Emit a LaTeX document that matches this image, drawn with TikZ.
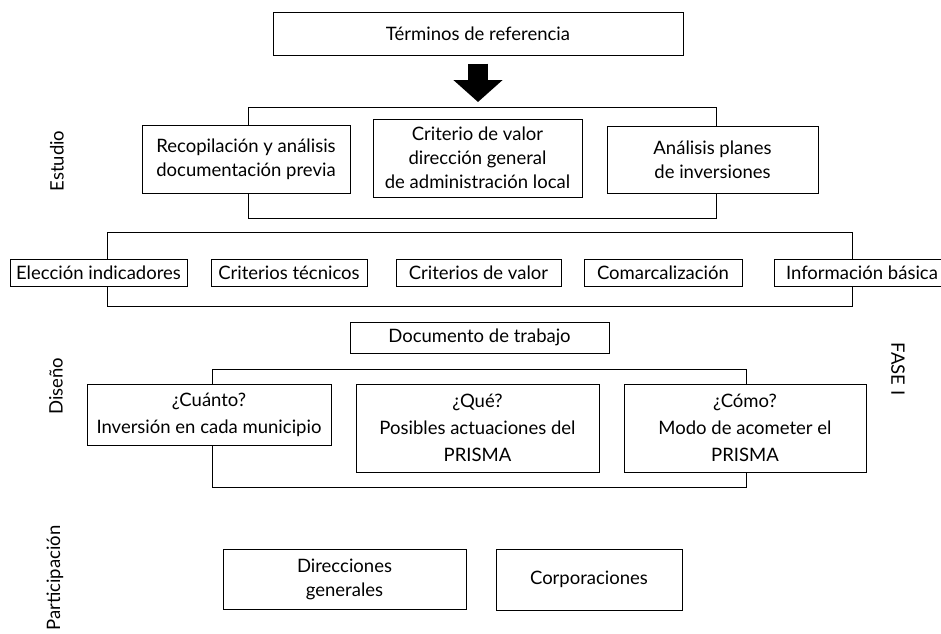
\documentclass[tikz,border=0pt]{standalone}
\usepackage{fontspec}
\setmainfont{Lato}
\usetikzlibrary{arrows.meta}
\begin{document}
\begin{tikzpicture}[x=1pt,y=-1pt,
  box/.style={draw, line width=1pt, fill=white, align=center, inner sep=0pt,
    font=\fontsize{18.5}{24}\selectfont},
  tallbox/.style={box, font=\fontsize{18.5}{27}\selectfont},
  frame/.style={draw, line width=1pt},
  sidelabel/.style={font=\fontsize{18.5}{24}\selectfont, inner sep=0pt},
  bigarrow/.style={line width=20pt, -{Triangle[width=48pt,length=22pt]}}
]
\useasboundingbox (0,0) rectangle (941,633);

% group frames (drawn first so the boxes cover them)
\draw[frame] (248,107) rectangle (716,218);
\draw[frame] (107,232) rectangle (852,306);
\draw[frame] (212,369) rectangle (746,487);
\coordinate (estudioTop) at (478,107);

% top
\node[box, minimum width=410pt, minimum height=43pt] (terminos) at (478,33.5) {Términos de referencia};
\draw[bigarrow, shorten <=8pt, shorten >=5pt] (terminos.south) -- (estudioTop);

% Estudio
\node[box, minimum width=208pt, minimum height=68pt] (recop) at (246,159) {Recopilación y análisis\\documentación previa};
\node[box, minimum width=209pt, minimum height=78pt] (criterio) at (477.5,158) {Criterio de valor\\dirección general\\de administración local};
\node[box, minimum width=211pt, minimum height=67pt] (analisis) at (712.5,159.5) {Análisis planes\\de inversiones};

% second row
\node[box, minimum width=177pt, minimum height=27pt] (eleccion) at (98.5,272.5) {Elección indicadores};
\node[box, minimum width=156pt, minimum height=27pt] (tecnicos) at (289,272.5) {Criterios técnicos};
\node[box, minimum width=165pt, minimum height=27pt] (valor) at (478.5,272.5) {Criterios de valor};
\node[box, minimum width=158pt, minimum height=27pt] (comarca) at (663,272.5) {Comarcalización};
\node[box, minimum width=176pt, minimum height=27pt] (info) at (862,272.5) {Información básica};

% Diseño
\node[box, minimum width=259pt, minimum height=31pt] (documento) at (479.5,337.5) {Documento de trabajo};
\node[tallbox, minimum width=244pt, minimum height=61pt] (cuanto) at (209,414.5) {¿Cuánto?\\Inversión en cada municipio};
\node[tallbox, minimum width=243pt, minimum height=88pt] (que) at (477.5,428) {¿Qué?\\Posibles actuaciones del\\PRISMA};
\node[tallbox, minimum width=242pt, minimum height=88pt] (como) at (745,428) {¿Cómo?\\Modo de acometer el\\PRISMA};

% Participación
\node[box, minimum width=243pt, minimum height=60pt] (direcciones) at (344.5,579) {Direcciones\\generales};
\node[box, minimum width=186pt, minimum height=61pt] (corporaciones) at (589,579.5) {Corporaciones};

% side labels
\node[sidelabel, rotate=90] (estudio) at (57,161) {Estudio};
\node[sidelabel, rotate=90] (diseno) at (56,386) {Diseño};
\node[sidelabel, rotate=90] (participacion) at (55,578) {Participación};
\node[sidelabel, rotate=-90] (fase) at (898,369) {FASE I};
\end{tikzpicture}
\end{document}
